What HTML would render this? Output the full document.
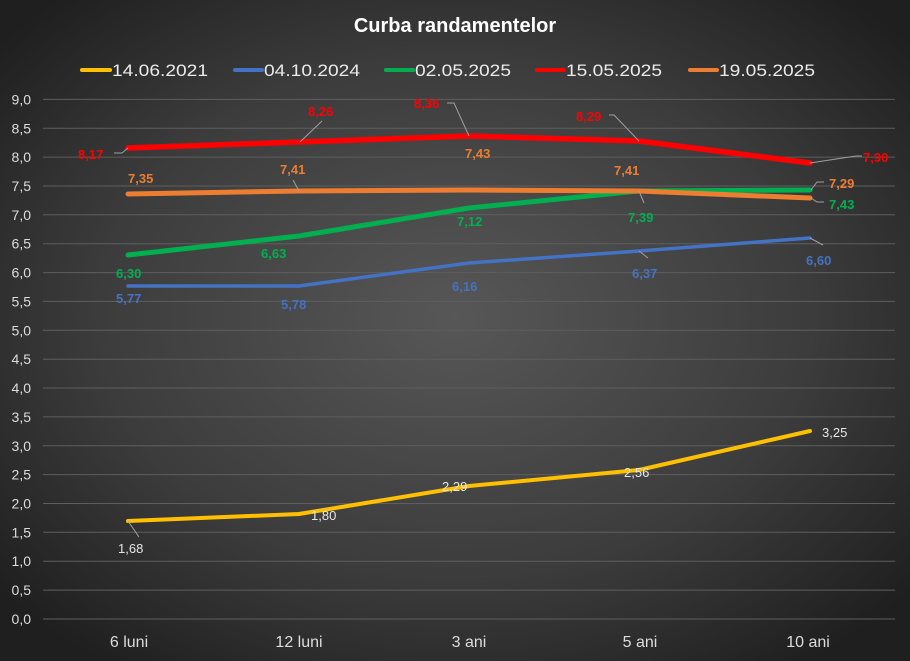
<!DOCTYPE html>
<html><head><meta charset="utf-8"><style>
html,body{margin:0;padding:0;width:910px;height:661px;overflow:hidden;background:#2a2a2a}
svg{display:block}
text{font-family:"Liberation Sans",sans-serif}
</style></head><body>
<svg width="910" height="661" viewBox="0 0 910 661">
<defs>
<radialGradient id="bg" cx="50%" cy="48%" r="65%">
<stop offset="0" stop-color="#575757"/>
<stop offset="0.6" stop-color="#3c3c3c"/>
<stop offset="1" stop-color="#1f1f1f"/>
</radialGradient>
</defs>
<rect width="910" height="661" fill="url(#bg)"/>
<text x="455" y="32" font-size="20" font-weight="bold" fill="#fff" text-anchor="middle">Curba randamentelor</text>
<g font-size="17" fill="#eaeaea">
<line x1="82" y1="70" x2="110" y2="70" stroke="#ffc000" stroke-width="4" stroke-linecap="round"/><text x="112" y="76" textLength="96" lengthAdjust="spacingAndGlyphs">14.06.2021</text>
<line x1="235" y1="70" x2="262" y2="70" stroke="#4472c4" stroke-width="4" stroke-linecap="round"/><text x="264" y="76" textLength="96" lengthAdjust="spacingAndGlyphs">04.10.2024</text>
<line x1="386" y1="70" x2="413" y2="70" stroke="#00b050" stroke-width="4" stroke-linecap="round"/><text x="415" y="76" textLength="96" lengthAdjust="spacingAndGlyphs">02.05.2025</text>
<line x1="537" y1="70" x2="564" y2="70" stroke="#ff0000" stroke-width="4" stroke-linecap="round"/><text x="566" y="76" textLength="96" lengthAdjust="spacingAndGlyphs">15.05.2025</text>
<line x1="690" y1="70" x2="717" y2="70" stroke="#ed7d31" stroke-width="4" stroke-linecap="round"/><text x="719" y="76" textLength="96" lengthAdjust="spacingAndGlyphs">19.05.2025</text>
</g>
<g stroke="#5e5e5e" stroke-width="1">
<line x1="43" x2="895" y1="99.4" y2="99.4"/><line x1="43" x2="895" y1="128.3" y2="128.3"/><line x1="43" x2="895" y1="157.1" y2="157.1"/><line x1="43" x2="895" y1="186" y2="186"/><line x1="43" x2="895" y1="214.8" y2="214.8"/><line x1="43" x2="895" y1="243.7" y2="243.7"/><line x1="43" x2="895" y1="272.6" y2="272.6"/><line x1="43" x2="895" y1="301.4" y2="301.4"/><line x1="43" x2="895" y1="330.3" y2="330.3"/><line x1="43" x2="895" y1="359.2" y2="359.2"/><line x1="43" x2="895" y1="388" y2="388"/><line x1="43" x2="895" y1="416.9" y2="416.9"/><line x1="43" x2="895" y1="445.8" y2="445.8"/><line x1="43" x2="895" y1="474.6" y2="474.6"/><line x1="43" x2="895" y1="503.5" y2="503.5"/><line x1="43" x2="895" y1="532.3" y2="532.3"/><line x1="43" x2="895" y1="561.2" y2="561.2"/><line x1="43" x2="895" y1="590.1" y2="590.1"/><line x1="43" x2="895" y1="619" y2="619"/>
</g>
<g font-size="14" fill="#dcdcdc" text-anchor="end">
<text x="31" y="104.4">9,0</text><text x="31" y="133.3">8,5</text><text x="31" y="162.1">8,0</text><text x="31" y="191">7,5</text><text x="31" y="219.8">7,0</text><text x="31" y="248.7">6,5</text><text x="31" y="277.6">6,0</text><text x="31" y="306.4">5,5</text><text x="31" y="335.3">5,0</text><text x="31" y="364.2">4,5</text><text x="31" y="393">4,0</text><text x="31" y="421.9">3,5</text><text x="31" y="450.8">3,0</text><text x="31" y="479.6">2,5</text><text x="31" y="508.5">2,0</text><text x="31" y="537.3">1,5</text><text x="31" y="566.2">1,0</text><text x="31" y="595.1">0,5</text><text x="31" y="624">0,0</text>
</g>
<g font-size="16" fill="#dcdcdc" text-anchor="middle">
<text x="129" y="647">6 luni</text><text x="299" y="647">12 luni</text><text x="469" y="647">3 ani</text><text x="640" y="647">5 ani</text><text x="808" y="647">10 ani</text>
</g>
<g fill="none" stroke-linecap="round" stroke-linejoin="round">
<polyline stroke="#ffc000" stroke-width="4" points="128,521 299,514 469,486 639,470 810,431"/>
<polyline stroke="#4472c4" stroke-width="3.5" points="128,286 299,286 469,263 639,251 810,238"/>
<polyline stroke="#00b050" stroke-width="5" points="128,255 299,236 469,208 639,191 810,190"/>
<polyline stroke="#ed7d31" stroke-width="5" points="128,194 299,191 469,190 639,191 810,198"/>
<polyline stroke="#ff0000" stroke-width="5.5" points="128,148 299,142 469,136 639,141 810,163"/>
</g>
<g stroke="#a0a0a0" stroke-width="1" fill="none">
<polyline points="114,153 122,153 128,148"/>
<line x1="300" y1="142" x2="322" y2="121"/>
<polyline points="447,103 454,103 469,136"/>
<polyline points="609,115 614,115 639,141"/>
<polyline points="810,163 856,156 862,156"/>
<line x1="299" y1="191" x2="293" y2="180"/>
<line x1="639" y1="191" x2="644" y2="203"/>
<polyline points="811,190 817,182 824,182"/>
<polyline points="811,198 817,202 824,202"/>
<line x1="639" y1="251" x2="648" y2="258"/>
<line x1="810" y1="238" x2="823" y2="245"/>
<line x1="128" y1="521" x2="139" y2="537"/>
</g>
<g font-size="13" font-weight="bold">
<text x="78" y="159" fill="#ff0000">8,17</text>
<text x="308" y="116" fill="#ff0000">8,26</text>
<text x="414" y="108" fill="#ff0000">8,36</text>
<text x="576" y="121" fill="#ff0000">8,29</text>
<text x="863" y="162" fill="#ff0000">7,90</text>
<text x="128" y="183" fill="#ed7d31">7,35</text>
<text x="280" y="174" fill="#ed7d31">7,41</text>
<text x="465" y="158" fill="#ed7d31">7,43</text>
<text x="614" y="175" fill="#ed7d31">7,41</text>
<text x="829" y="188" fill="#ed7d31">7,29</text>
<text x="116" y="278" fill="#00b050">6,30</text>
<text x="261" y="258" fill="#00b050">6,63</text>
<text x="457" y="226" fill="#00b050">7,12</text>
<text x="628" y="222" fill="#00b050">7,39</text>
<text x="829" y="209" fill="#00b050">7,43</text>
<text x="116" y="303" fill="#4472c4">5,77</text>
<text x="281" y="309" fill="#4472c4">5,78</text>
<text x="452" y="291" fill="#4472c4">6,16</text>
<text x="632" y="278" fill="#4472c4">6,37</text>
<text x="806" y="265" fill="#4472c4">6,60</text>
</g>
<g font-size="13" fill="#e6e6e6">
<text x="118" y="553">1,68</text>
<text x="311" y="520">1,80</text>
<text x="442" y="491">2,29</text>
<text x="624" y="477">2,56</text>
<text x="822" y="437">3,25</text>
</g>
</svg>
</body></html>
